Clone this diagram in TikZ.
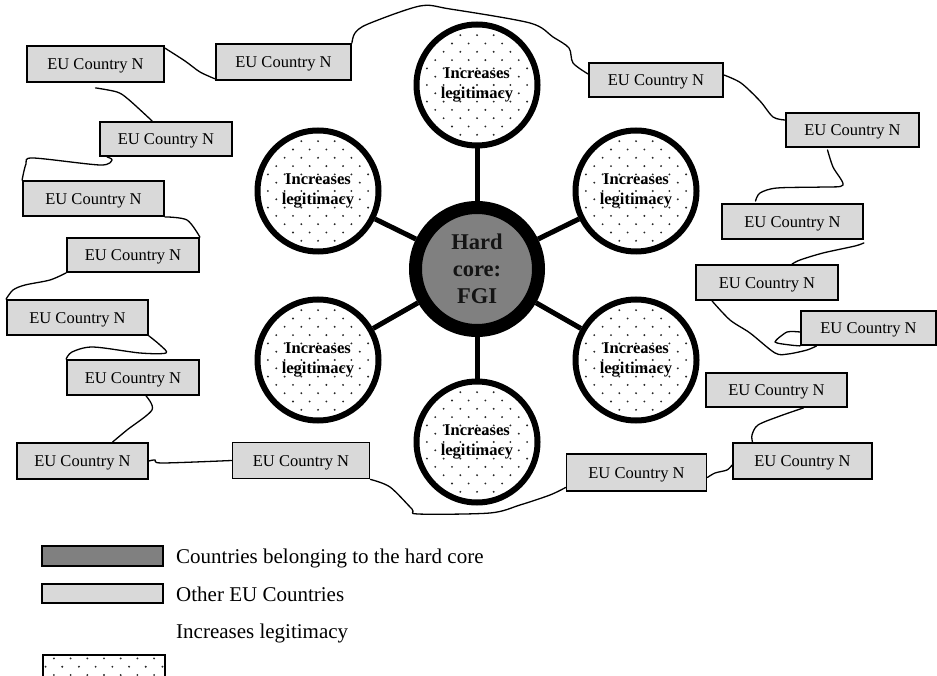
\documentclass[tikz,border=0pt]{standalone}
\usepackage{fontspec}
\setmainfont{Liberation Serif}
\definecolor{boxgrey}{RGB}{217,217,217}
\definecolor{coregrey}{RGB}{128,128,128}
\definecolor{dotcol}{RGB}{40,40,40}
\tikzset{
  dotsfill/.style={path picture={
    \foreach \r in {0,...,16}{
      \foreach \c in {0,...,8}{
        \pgfmathsetmacro\dx{(\c-4)*16.7+mod(\r,2)*8.35}
        \pgfmathsetmacro\dy{(\r-8)*8.3}
        \fill[dotcol] ([shift={(\dx,\dy)}]path picture bounding box.center) circle[radius=1.05pt];
      }
    }}},
  eubox/.style={draw, line width=1.8pt, fill=boxgrey, inner sep=0pt,
    font=\fontsize{16.5}{19}\selectfont, text height=11.5pt, text depth=0pt},
  dotcirc/.style={circle, draw, line width=6pt, minimum size=121pt, inner sep=0pt,
    align=center, dotsfill, text=black, font=\bfseries\fontsize{16.5}{20}\selectfont},
  conn/.style={line width=1.3pt, line join=round, line cap=round},
  spoke/.style={line width=5pt},
  legbox/.style={draw, line width=1.6pt, inner sep=0pt, minimum width=121pt},
  legtext/.style={anchor=base west, inner sep=0pt, font=\fontsize{21}{25}\selectfont}
}
\begin{document}
\begin{tikzpicture}[x=1pt,y=-1pt]
\useasboundingbox (0,0) rectangle (937,676);

% central hard core
\node[circle, draw, line width=13pt, fill=coregrey, minimum size=123pt, inner sep=0pt,
      align=center, text=black!92, font=\bfseries\fontsize{22.5}{27}\selectfont] (core) at (477,269) {Hard\\core:\\FGI};

% legitimacy circles
\node[dotcirc] (ctop) at (477,85)  {Increases\\legitimacy};
\node[dotcirc] (cul)  at (318,191) {Increases\\legitimacy};
\node[dotcirc] (cur)  at (636,191) {Increases\\legitimacy};
\node[dotcirc] (cll)  at (318,360) {Increases\\legitimacy};
\node[dotcirc] (clr)  at (636,360) {Increases\\legitimacy};
\node[dotcirc] (cbot) at (477,442) {Increases\\legitimacy};

\foreach \n in {ctop,cul,cur,cll,clr,cbot} \draw[spoke] (core) -- (\n);

% EU country boxes
\node[eubox, minimum width=137pt, minimum height=36pt] (b1)  at (95.5,64)   {EU Country N};
\node[eubox, minimum width=135pt, minimum height=36pt] (b2)  at (283.5,62)  {EU Country N};
\node[eubox, minimum width=132pt, minimum height=34pt] (b3)  at (166,139)   {EU Country N};
\node[eubox, minimum width=141pt, minimum height=35pt] (b4)  at (93.5,198.5){EU Country N};
\node[eubox, minimum width=132pt, minimum height=34pt] (b5)  at (133,255)   {EU Country N};
\node[eubox, minimum width=141pt, minimum height=35pt] (b6)  at (77.5,317.5){EU Country N};
\node[eubox, minimum width=132pt, minimum height=35pt] (b7)  at (133,377.5) {EU Country N};
\node[eubox, minimum width=131pt, minimum height=36pt] (b8)  at (82.5,461)  {EU Country N};
\node[eubox, minimum width=137pt, minimum height=36pt] (b9)  at (301,460.5) {EU Country N};
\node[eubox, minimum width=140pt, minimum height=37pt] (b10) at (636.5,472.5){EU Country N};
\node[eubox, minimum width=139pt, minimum height=36pt] (b11) at (802.5,461) {EU Country N};
\node[eubox, minimum width=141pt, minimum height=34pt] (b12) at (776.5,390) {EU Country N};
\node[eubox, minimum width=135pt, minimum height=34pt] (b13) at (868.5,328) {EU Country N};
\node[eubox, minimum width=142pt, minimum height=35pt] (b14) at (767,282.5) {EU Country N};
\node[eubox, minimum width=141pt, minimum height=35pt] (b15) at (792.5,221.5){EU Country N};
\node[eubox, minimum width=133pt, minimum height=34pt] (b16) at (852.5,130) {EU Country N};
\node[eubox, minimum width=134pt, minimum height=34pt] (b17) at (656,80)    {EU Country N};

% hand drawn connectors
\draw[conn] plot[smooth, tension=0.5] coordinates {([yshift=-3pt]b1.north east) (185,61) (200,72) ([yshift=2pt]b2.south west)};
\draw[conn] plot[smooth, tension=0.5] coordinates {(b2.north east) (355,33) (368,24) (420,6) (450,9) (530,23) (553,37) (569,48) (573,63) ([yshift=6pt]b17.west)};
\draw[conn] plot[smooth, tension=0.5] coordinates {([yshift=5pt]b17.east) (741,83) (760,101) (773,117) ([yshift=10pt]b16.west)};
\draw[conn] plot[smooth, tension=0.5] coordinates {([xshift=-25pt,yshift=-2pt]b16.south) (833,167) (843,185) (823,187) (777,188) (760,193) ([xshift=-37pt,yshift=2pt]b15.north)};
\draw[conn] plot[smooth, tension=0.5] coordinates {([yshift=-3pt]b15.south east) (855,246) (823,253) (800,260) ([xshift=25pt]b14.north)};
\draw[conn] plot[smooth, tension=0.5] coordinates {([xshift=-55pt]b14.south) (730,320) (750,333) (775,353) (788,354) (807,350) ([xshift=-52pt]b13.south)};
\draw[conn] plot[smooth, tension=0.4] coordinates {([yshift=-4pt]b13.west) (787,332) (775,342) (790,345) (b13.south west)};
\draw[conn] plot[smooth, tension=0.5] coordinates {([xshift=27pt]b12.south) (780,416) (758,425) (752,435) ([xshift=-50pt]b11.north)};
\draw[conn] plot[smooth, tension=0.5] coordinates {([yshift=-4pt]b11.west) (727,470) (715,473) ([yshift=-5pt]b10.east)};
\draw[conn] plot[smooth, tension=0.5] coordinates {([yshift=-15pt]b10.west) (550,495) (520,505) (490,513) (418,514) (412,509) (390,487) (b9.south east)};
\draw[conn] plot[smooth, tension=0.5] coordinates {(b9.west) (162,463) (155,460) (b8.east)};
\draw[conn] plot[smooth, tension=0.5] coordinates {([xshift=30pt]b8.north) (127,430) (152,410) ([xshift=13pt]b7.south)};
\draw[conn] plot[smooth, tension=0.5] coordinates {(b7.north west) (72,352) (93,347) (140,353) (166,353) (160,345) (b6.south east)};
\draw[conn] plot[smooth, tension=0.5] coordinates {(b6.north west) (13,290) (25,285) (50,280) (b5.south west)};
\draw[conn] plot[smooth, tension=0.5] coordinates {(b4.south east) (187,220) (b5.north east)};
\draw[conn] plot[smooth, tension=0.5] coordinates {([xshift=-59pt]b3.south) (112,160) (100,165) (33,158) (26,164) (b4.north west)};
\draw[conn] plot[smooth, tension=0.5] coordinates {([yshift=-5pt]b1.south) (117,92) (128,99) (150,119) ([xshift=-14pt]b3.north)};

% legend
\node[legbox, fill=coregrey, minimum height=20pt] (lg1) at (102.5,556) {};
\node[legbox, fill=boxgrey, minimum height=19pt] (lg2) at (102.5,593.5) {};
\node[legbox, dotsfill, minimum width=122pt, minimum height=40pt] (lg3) at (104,675) {};
\node[legtext] (lt1) at (176,563) {Countries belonging to the hard core};
\node[legtext] (lt2) at (176,601) {Other EU Countries};
\node[legtext] (lt3) at (176,638) {Increases legitimacy};
\end{tikzpicture}
\end{document}
